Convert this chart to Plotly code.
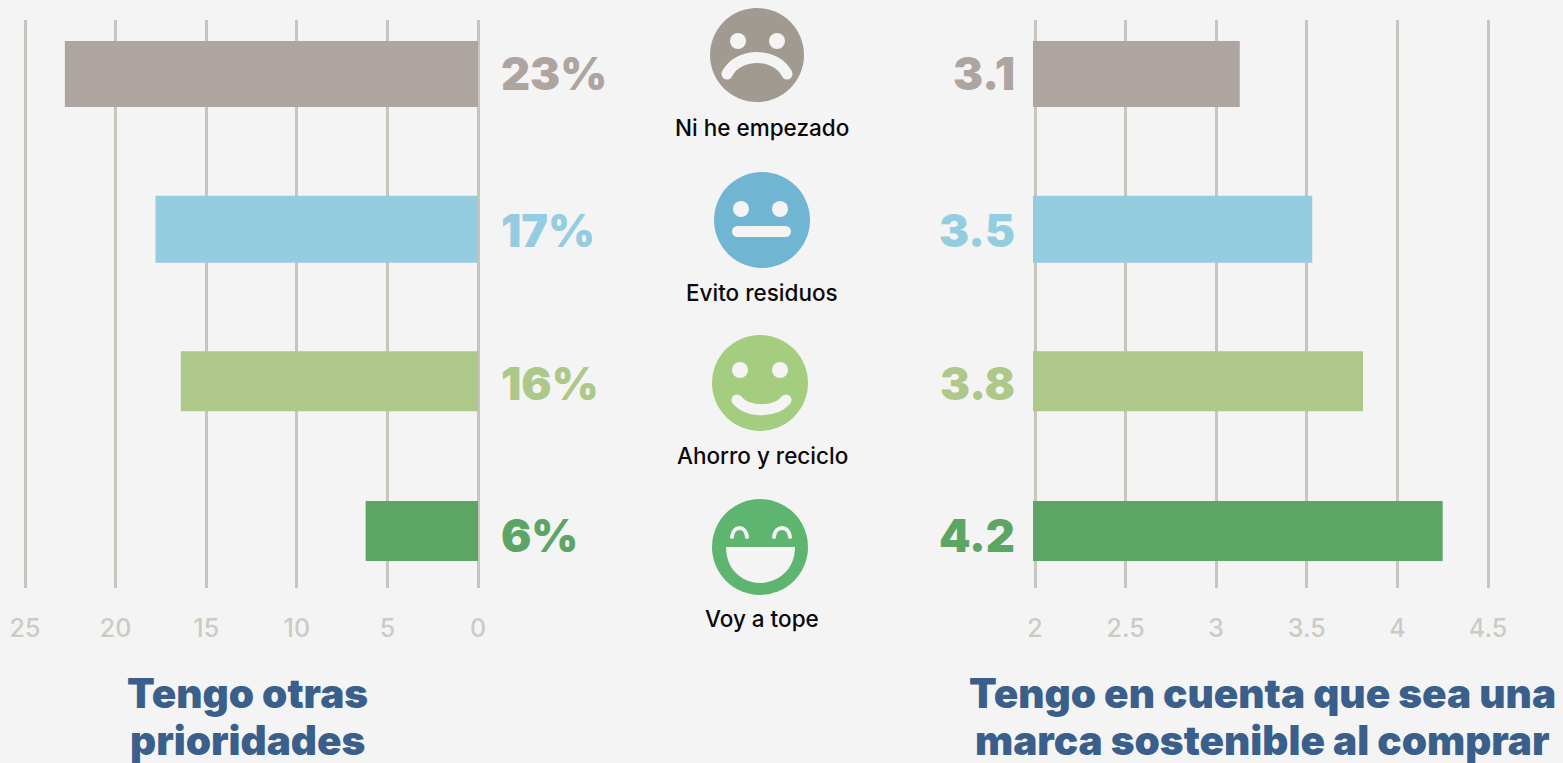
import plotly.graph_objects as go

categories = ["Ni he empezado", "Evito residuos", "Ahorro y reciclo", "Voy a tope"]
left_values = [22.8, 17.8, 16.4, 6.2]
left_labels = ["23%", "17%", "16%", "6%"]
right_values = [3.13, 3.53, 3.81, 4.25]
right_labels = ["3.1", "3.5", "3.8", "4.2"]
left_ticks = [25, 20, 15, 10, 5, 0]
right_ticks = [2, 2.5, 3, 3.5, 4, 4.5]
left_title = ["Tengo otras", "prioridades"]
right_title = ["Tengo en cuenta que sea una", "marca sostenible al comprar"]

W, H = 1563, 763
BG = "#f4f4f4"
bar_colors = ["#aea5a0", "#94cddf", "#adc888", "#5da564"]
face_colors = ["#a09a90", "#70b5d1", "#a5cd80", "#5db56f"]
GRID = "#c6c6be"
TICK = "#cbcbc4"
TITLE = "#3a5f8a"
FONT = "Inter"

px_per_row = 152.33
widths = [66 / px_per_row, 67 / px_per_row, 60 / px_per_row, 60 / px_per_row]
shifts = [0, 3 / px_per_row, 2.5 / px_per_row, 0]
offsets = [s - w / 2 for s, w in zip(shifts, widths)]

def X(p): return p / W
def Y(p): return 1 - p / H

fig = go.Figure()
for vals, xa, ya in [(left_values, "x", "y"), (right_values, "x2", "y2")]:
    fig.add_trace(go.Bar(y=categories, x=vals, orientation="h", xaxis=xa, yaxis=ya,
                         width=widths, offset=offsets, marker=dict(color=bar_colors, line_width=0),
                         showlegend=False, hoverinfo="x+y"))

yaxis_common = dict(domain=[Y(588), Y(20)], range=[3.374, -0.354], type="category",
                    categoryorder="array", categoryarray=categories, automargin=False,
                    showticklabels=False, showgrid=False, zeroline=False, showline=False, ticks="")
xaxis_common = dict(showgrid=True, gridcolor=GRID, gridwidth=2.5, zeroline=True, zerolinecolor=GRID,
                    zerolinewidth=2.5, showline=False,
                    ticks="", ticklabelstandoff=23, tickmode="array", automargin=False,
                    tickfont=dict(family=FONT, size=25, color=TICK, weight=500))
# A small pad around each axis range keeps the end gridlines from being dropped
pad_px = 2
left_scale = 453 / 25
right_scale = 453 / 2.5
fig.update_layout(
    width=W, height=H, margin=dict(l=0, r=0, t=0, b=0, pad=0), autosize=False,
    paper_bgcolor=BG, plot_bgcolor=BG, showlegend=False,
    xaxis=dict(domain=[X(25 - pad_px), X(478 + pad_px)],
               range=[25 + pad_px / left_scale, -pad_px / left_scale],
               tickvals=left_ticks, anchor="y", **xaxis_common),
    xaxis2=dict(domain=[X(1035 - pad_px), X(1488 + pad_px)],
                range=[2 - pad_px / right_scale, 4.5 + pad_px / right_scale],
                tickvals=right_ticks, anchor="y2", **xaxis_common),
    yaxis=dict(anchor="x", **yaxis_common),
    yaxis2=dict(anchor="x2", **yaxis_common),
)

ann = []
def text(px, py, s, size, color, weight, anchor="center"):
    ann.append(dict(xref="paper", yref="paper", x=X(px), y=Y(py), text=s, showarrow=False,
                    xanchor=anchor, yanchor="middle", align="center",
                    font=dict(family=FONT, size=size, color=color, weight=weight)))

row_px = [74, 231, 383, 535]
for lab, rl, c, py in zip(left_labels, right_labels, bar_colors, row_px):
    text(499, py, lab, 45, c, 900, "left")
    text(1017, py, rl, 45, c, 900, "right")

for cat, py in zip(categories, [128, 292, 455, 618]):
    text(762, py, cat, 22.5, "#0a0a0a", 500)

for lines, cx in [(left_title, 248), (right_title, 1262)]:
    for line, py in zip(lines, [693, 740]):
        text(cx, py, line, 40.5, TITLE, 900)
fig.update_layout(annotations=ann)

# Face icons, drawn in page pixels and converted to paper coordinates
shapes = []
def circle(cx, cy, r, color):
    shapes.append(dict(type="circle", xref="paper", yref="paper", x0=X(cx - r), x1=X(cx + r),
                       y0=Y(cy + r), y1=Y(cy - r), fillcolor=color, line_width=0, layer="above"))
def path(cmds, fill=None, stroke=None, w=0):
    out = []
    for c in cmds:
        out.append(c if isinstance(c, str) else f"{X(c[0]):.5f},{Y(c[1]):.5f}")
    d = dict(type="path", xref="paper", yref="paper", path=" ".join(out), layer="above")
    d["fillcolor"] = fill if fill else "rgba(0,0,0,0)"
    d["line"] = dict(color=stroke, width=w) if stroke else dict(width=0)
    shapes.append(d)
def round_stroke(cmds, a, b, w):
    path(cmds, stroke=BG, w=w)
    circle(a[0], a[1], w / 2, BG)
    circle(b[0], b[1], w / 2, BG)

faces = [(757, 55, 47), (762, 220, 48), (760, 383, 48), (760, 547, 48)]
for (cx, cy, r), col in zip(faces, face_colors):
    circle(cx, cy, r, col)
for ex, ey in [(738, 41), (777, 41), (741, 209), (780, 209), (740, 370), (780, 370)]:
    circle(ex, ey, 8, BG)
round_stroke(["M", (727, 74), "C", (738, 52), (776, 52), (787, 74)], (727, 74), (787, 74), 11)
round_stroke(["M", (737.5, 231.5), "L", (785.5, 231.5)], (737.5, 231.5), (785.5, 231.5), 11)
round_stroke(["M", (737, 400), "C", (748, 413), (775, 413), (786, 400)], (737, 400), (786, 400), 11)
round_stroke(["M", (732, 537), "C", (733, 525), (746, 525), (747, 537)], (732, 537), (747, 537), 4)
round_stroke(["M", (774, 537), "C", (775, 525), (789, 525), (790, 537)], (774, 537), (790, 537), 4)
path(["M", (726, 547), "L", (795, 547), "C", (795, 572), (775, 583), (760, 583),
      "C", (745, 583), (726, 572), (726, 547), "Z"], fill=BG)
fig.update_layout(shapes=shapes)

fig.write_html("out.html", config=dict(displayModeBar=False),
               post_script="document.body.style.margin='0';document.body.style.background='#f4f4f4';")
